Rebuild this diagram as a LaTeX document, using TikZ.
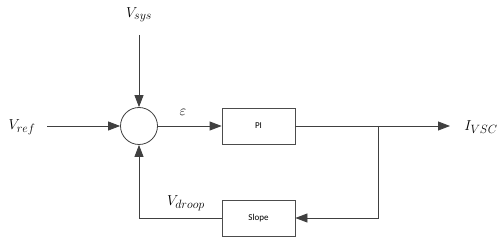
\documentclass[tikz,border=0pt]{standalone}
\usepackage{fontspec}
\newfontfamily\boxfont{Carlito}
\DeclareMathSizes{15}{15}{11.5}{9}
\usetikzlibrary{arrows.meta}
\begin{document}
\begin{tikzpicture}[x=1pt,y=-1pt,
  line/.style={draw=black!75, line width=0.8pt},
  arr/.style={line, -{Triangle[length=12pt,width=9pt]}},
  blk/.style={draw=black!70, line width=0.8pt, minimum width=73pt, minimum height=36pt, inner sep=0pt, font=\boxfont\fontsize{9}{10}\selectfont},
  lbl/.style={font=\fontsize{15}{17}\selectfont, inner sep=0pt}]
\useasboundingbox (0,0) rectangle (500,237);
\node[draw=black!75, line width=0.8pt, circle, minimum size=37pt, inner sep=0pt] (sum) at (139,126) {};
\node[blk] (pi) at (258.5,126) {PI};
\node[blk] (slope) at (258.5,218) {Slope};
\node[lbl] (vsys) at (139,15) {$V_{sys}$};
\node[lbl] (vref) at (22,127) {$V_{ref}$};
\node[lbl] (eps) at (183,112) {$\varepsilon$};
\node[lbl] (ivsc) at (481,127) {$I_{VSC}$};
\node[lbl] (vdroop) at (186,203) {$V_{droop}$};
\coordinate (vsysend) at (139,35);
\coordinate (vrefend) at (47,126);
\coordinate (branch) at (378,126);
\coordinate (outend) at (450,126);
\draw[arr] (vsysend) -- (sum.north);
\draw[arr] (vrefend) -- (sum.west);
\draw[arr] (sum.east) -- (pi.west);
\draw[arr] (pi.east) -- (outend);
\draw[arr] (branch) |- (slope.east);
\draw[arr] (slope.west) -| (sum.south);
\end{tikzpicture}
\end{document}
